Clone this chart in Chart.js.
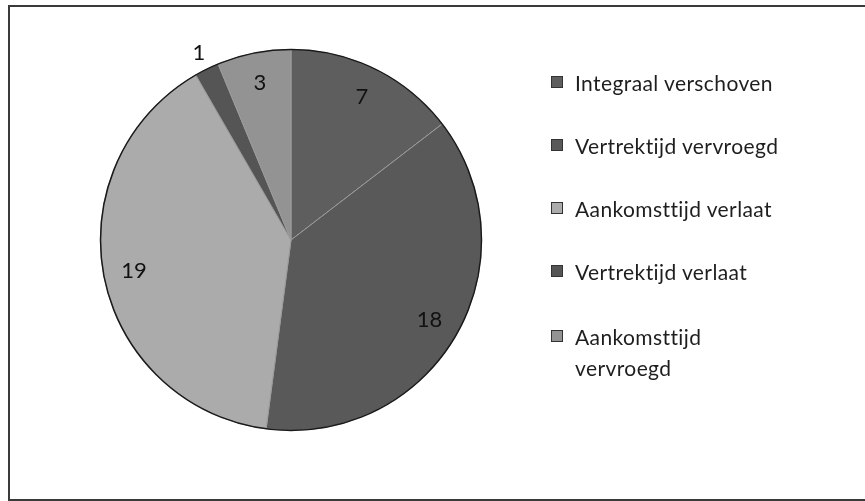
<!DOCTYPE html>
<html>
<head>
<meta charset="utf-8">
<script src="https://cdn.jsdelivr.net/npm/chart.js@4.4.1/dist/chart.umd.min.js"></script>
<style>
    body { margin: 0; background: #ffffff; }
    #wrap { position: relative; width: 865px; height: 501px; overflow: hidden; }
    #frame { position: absolute; left: 8px; top: 5px; width: 870px; height: 492px; border: 2px solid #3a3a3a; }
    #pieChart { position: absolute; left: 0; top: 0; }
    #legend { position: absolute; left: 551px; top: 0; font-family: Lato, "Open Sans", sans-serif; font-size: 21px; letter-spacing: 0.4px; color: #1e1e1e; }
    .item { position: absolute; left: 0; white-space: nowrap; line-height: 31px; }
    .box { position: absolute; left: 0; top: 9px; width: 12px; height: 12px; border: 1px solid #333; box-sizing: border-box; }
    .txt { position: absolute; left: 24px; top: 0; }
</style>
</head>
<body>
<div id="wrap">
    <div id="frame"></div>
    <canvas id="pieChart" width="865" height="501"></canvas>
    <div id="legend"></div>
</div>
<script>
var categories = ["Integraal verschoven", "Vertrektijd vervroegd", "Aankomsttijd verlaat", "Vertrektijd verlaat", "Aankomsttijd vervroegd"];
var legendLines = [["Integraal verschoven"], ["Vertrektijd vervroegd"], ["Aankomsttijd verlaat"], ["Vertrektijd verlaat"], ["Aankomsttijd", "vervroegd"]];
var counts = [7, 18, 19, 1, 3];
var sliceColors = ["#5e5e5e", "#595959", "#ababab", "#555555", "#939393"];

// numbers in the slices, the tiny one sits outside; plus a dark rim
var labelPlugin = {
    id: 'sliceLabels',
    afterDatasetsDraw: function (chart) {
        var ctx = chart.ctx;
        var meta = chart.getDatasetMeta(0);
        var first = meta.data[0];
        ctx.save();
        ctx.beginPath();
        ctx.arc(first.x, first.y, first.outerRadius, 0, Math.PI * 2);
        ctx.lineWidth = 1.5;
        ctx.strokeStyle = '#1a1a1a';
        ctx.stroke();

        ctx.font = '22px Lato, "Open Sans", sans-serif';
        ctx.fillStyle = '#111';
        ctx.textAlign = 'center';
        ctx.textBaseline = 'middle';
        meta.data.forEach(function (arc, i) {
            var mid = (arc.startAngle + arc.endAngle) / 2;
            var r = arc.outerRadius * 0.84;
            if (counts[i] < 2) r = arc.outerRadius + 18;
            var x = arc.x + Math.cos(mid) * r;
            var y = arc.y + Math.sin(mid) * r;
            ctx.fillText(String(counts[i]), x, y);
        });
        ctx.restore();
    }
};

var ctx = document.getElementById("pieChart");
var pieChart = new Chart(ctx, {
    type: 'pie',
    data: {
        labels: categories,
        datasets: [{
            data: counts,
            backgroundColor: sliceColors,
            borderColor: '#9a9a9a',
            borderWidth: 1
        }]
    },
    options: {
        responsive: false,
        animation: false,
        layout: { padding: { left: 100, right: 383, top: 49, bottom: 70 } },
        plugins: {
            legend: { display: false },
            tooltip: { enabled: false }
        }
    },
    plugins: [labelPlugin]
});

function buildLegend() {
    var tops = [67, 130, 193, 256, 321];
    var html = '';
    for (var i = 0; i < categories.length; i++) {
        html += '<div class="item" style="top:' + tops[i] + 'px">';
        html += '<div class="box" style="background:' + sliceColors[i] + '"></div>';
        html += '<div class="txt">' + legendLines[i].join('<br>') + '</div>';
        html += '</div>';
    }
    document.getElementById("legend").innerHTML = html;
}
buildLegend();
</script>
</body>
</html>
